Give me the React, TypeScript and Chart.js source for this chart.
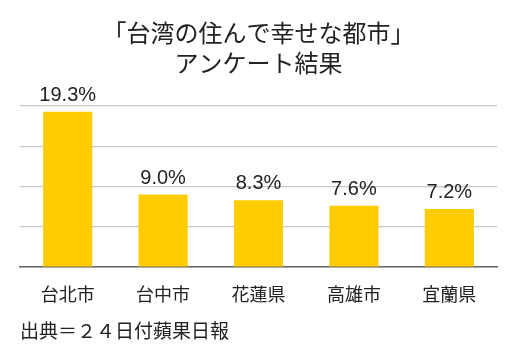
import React, { useEffect, useRef } from "react";
import { Chart, registerables } from "chart.js";

Chart.register(...registerables);

const categories = ["台北市", "台中市", "花蓮県", "高雄市", "宜蘭県"];
const values = [19.3, 9.0, 8.3, 7.6, 7.2];
const valueLabels = ["19.3%", "9.0%", "8.3%", "7.6%", "7.2%"];
const titleLines = ["「台湾の住んで幸せな都市」", "アンケート結果"];
const sourceNote = "出典＝２４日付蘋果日報";

const CJK = "'Noto Sans CJK JP', 'Noto Sans', sans-serif";

const valueLabelPlugin = {
  id: "valueLabels",
  afterDatasetsDraw(chart: any) {
    const ctx = chart.ctx;
    const meta = chart.getDatasetMeta(0);
    ctx.save();
    ctx.font = "20px 'Liberation Sans', Arial, sans-serif";
    ctx.fillStyle = "#222";
    ctx.textAlign = "center";
    ctx.textBaseline = "alphabetic";
    meta.data.forEach((bar: any, i: number) => {
      ctx.fillText(valueLabels[i], bar.x, bar.y - 11);
    });
    ctx.restore();
  },
};

export default function App() {
  const ref = useRef<HTMLCanvasElement | null>(null);
  useEffect(() => {
    document.body.style.margin = "0";
    if (!ref.current) return;
    const chart = new Chart(ref.current, {
      type: "bar",
      data: {
        labels: categories,
        datasets: [
          {
            data: values,
            backgroundColor: "#FFCC00",
            categoryPercentage: 1,
            barPercentage: 0.515,
          },
        ],
      },
      options: {
        animation: false,
        responsive: false,
        layout: { padding: { left: 20, right: 27, top: 0, bottom: 0 } },
        plugins: {
          legend: { display: false },
          tooltip: { enabled: false },
          title: {
            display: true,
            text: titleLines,
            color: "#222",
            font: { family: CJK, size: 24, weight: "normal", lineHeight: 1.25 },
            padding: { top: 18, bottom: 28 },
          },
          subtitle: {
            display: true,
            position: "bottom",
            align: "start",
            text: sourceNote,
            color: "#222",
            font: { family: CJK, size: 19, weight: "normal", lineHeight: 1.0 },
            padding: { top: 0, bottom: 19 },
          },
        },
        scales: {
          x: {
            grid: { display: false, drawTicks: false },
            border: { display: true, color: "#666", width: 1.5 },
            ticks: {
              color: "#222",
              padding: 18,
              font: { family: CJK, size: 18, lineHeight: 1.0 },
            },
          },
          y: {
            min: 0,
            max: 20,
            ticks: { display: false, stepSize: 5 },
            grid: { color: "#c8c8c8", lineWidth: 1.2, drawTicks: false },
            border: { display: false },
          },
        },
      },
      plugins: [valueLabelPlugin],
    });
    return () => chart.destroy();
  }, []);
  return (
    <div style={{ width: 524, height: 359 }}>
      <canvas ref={ref} width={524} height={359} style={{ display: "block" }} />
    </div>
  );
}
